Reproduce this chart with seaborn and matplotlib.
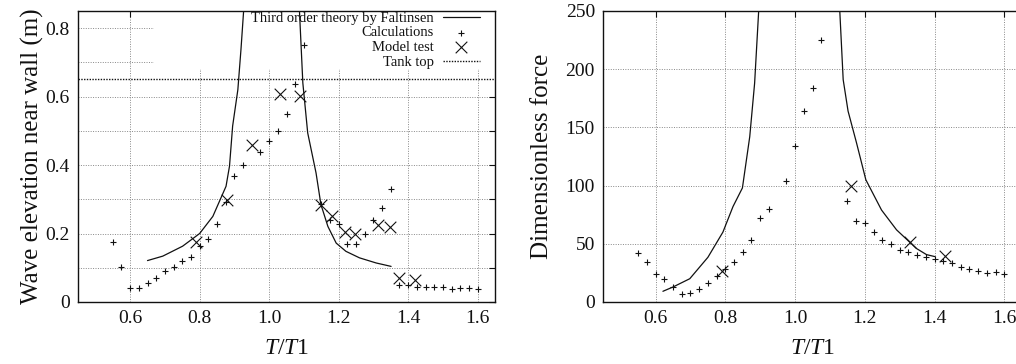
import numpy as np
import pandas as pd
import matplotlib
matplotlib.use("Agg")
import matplotlib.pyplot as plt
import seaborn as sns
from matplotlib.patches import Rectangle

# ---------------- data: wave elevation (left) ----------------
calc_x_left = [0.55, 0.575, 0.60, 0.625, 0.65, 0.675, 0.70, 0.725, 0.75, 0.775, 0.80, 0.825,
               0.85, 0.875, 0.90, 0.925, 0.975, 1.0, 1.025, 1.05, 1.075, 1.10,
               1.15, 1.175, 1.20, 1.225, 1.25, 1.275, 1.30, 1.325, 1.35,
               1.375, 1.40, 1.425, 1.45, 1.475, 1.50, 1.525, 1.55, 1.575, 1.60]
calc_y_left = [0.175, 0.101, 0.040, 0.040, 0.056, 0.071, 0.090, 0.101, 0.119, 0.131, 0.165, 0.184,
               0.229, 0.291, 0.369, 0.400, 0.439, 0.469, 0.499, 0.549, 0.638, 0.750,
               0.285, 0.240, 0.229, 0.170, 0.170, 0.199, 0.240, 0.275, 0.330,
               0.049, 0.049, 0.045, 0.044, 0.044, 0.043, 0.039, 0.042, 0.042, 0.038]
test_x_left = [0.79, 0.879, 0.95, 1.03, 1.09, 1.149, 1.181, 1.217, 1.248, 1.314, 1.348, 1.373, 1.42]
test_y_left = [0.174, 0.299, 0.460, 0.608, 0.603, 0.282, 0.250, 0.205, 0.200, 0.226, 0.218, 0.070, 0.065]
theory_x_left = [0.65, 0.694, 0.751, 0.80, 0.838, 0.876, 0.886, 0.895, 0.91, 0.919, 0.93, 1.0,
                 1.085, 1.097, 1.111, 1.135, 1.149, 1.169, 1.193, 1.221, 1.26, 1.308, 1.351]
theory_y_left = [0.121, 0.134, 0.163, 0.200, 0.250, 0.338, 0.397, 0.514, 0.620, 0.738, 0.90, 2.0,
                 0.90, 0.640, 0.494, 0.377, 0.285, 0.221, 0.172, 0.148, 0.129, 0.114, 0.104]
tank_top = 0.65

# ---------------- data: dimensionless force (right) ----------------
calc_x_right = [0.55, 0.575, 0.60, 0.625, 0.65, 0.675, 0.70, 0.725, 0.75, 0.775, 0.80, 0.825,
                0.85, 0.875, 0.90, 0.925, 0.975, 1.0, 1.025, 1.05, 1.075,
                1.15, 1.175, 1.20, 1.225, 1.25, 1.275, 1.30, 1.325, 1.35, 1.375, 1.40,
                1.425, 1.45, 1.475, 1.50, 1.525, 1.55, 1.575, 1.60]
calc_y_right = [42.4, 34.4, 24.0, 20.0, 12.9, 6.9, 7.4, 11.5, 16.3, 22.0, 28.0, 34.4,
                43.0, 53.0, 72.0, 80.0, 104.0, 134.0, 164.0, 184.0, 225.0,
                87.0, 70.0, 68.0, 60.0, 53.0, 50.0, 45.0, 43.0, 40.7, 39.0, 37.0,
                35.5, 33.5, 30.0, 28.0, 27.0, 25.0, 26.0, 24.0]
test_x_right = [0.791, 1.16, 1.329, 1.431]
test_y_right = [26.3, 99.4, 51.8, 39.8]
theory_x_right = [0.621, 0.65, 0.698, 0.75, 0.793, 0.822, 0.849, 0.87, 0.884, 0.905, 1.0,
                  1.12, 1.138, 1.152, 1.176, 1.203, 1.248, 1.291, 1.348, 1.377, 1.401]
theory_y_right = [9.2, 12.9, 20.0, 38.4, 60.0, 82.0, 98.0, 142.0, 188.0, 300.0, 800.0,
                  300.0, 191.0, 164.0, 137.0, 105.0, 79.0, 62.0, 46.0, 40.7, 39.0]

x_ticks = [0.6, 0.8, 1.0, 1.2, 1.4, 1.6]
x_tick_labels = ["0.6", "0.8", "1.0", "1.2", "1.4", "1.6"]
y_ticks_left = [0.0, 0.1, 0.2, 0.3, 0.4, 0.5, 0.6, 0.7, 0.8]
y_tick_labels_left = ["0", "", "0.2", "", "0.4", "", "0.6", "", "0.8"]
y_ticks_right = [0, 50, 100, 150, 200, 250]
y_tick_labels_right = ["0", "50", "100", "150", "200", "250"]

# ---------------- style ----------------
sns.set_theme(style="white")
plt.rcParams["font.family"] = ["Liberation Serif", "DejaVu Serif"]
plt.rcParams["mathtext.fontset"] = "custom"
plt.rcParams["mathtext.it"] = "Liberation Serif:italic"
plt.rcParams["mathtext.rm"] = "Liberation Serif"

W, H = 1016, 364
fig = plt.figure(figsize=(W / 100, H / 100), dpi=100)
axL = fig.add_axes([78 / W, 62 / H, 417 / W, 291 / H])
axR = fig.add_axes([603.3 / W, 62 / H, 418.4 / W, 291 / H])

ink = "#111111"
grid_kw = dict(color="#888888", linestyle=(0, (1, 1.5)), linewidth=0.7)


def style_axes(ax, yticks, ylabels, ylim, ylabel, ypad):
    ax.set_xlim(0.45, 1.65)
    ax.set_ylim(*ylim)
    ax.set_xticks(x_ticks)
    ax.set_xticklabels(x_tick_labels)
    ax.set_yticks(yticks)
    ax.set_yticklabels(ylabels)
    ax.set_axisbelow(True)
    ax.grid(True, **grid_kw)
    ax.tick_params(direction="in", length=4, width=0.8, colors=ink, labelsize=14,
                   top=True, right=True, pad=6)
    for s in ax.spines.values():
        s.set_color(ink)
        s.set_linewidth(1.0)
    ax.set_xlabel(r"$T$/$T$1", fontsize=17, color=ink, labelpad=8)
    ax.set_ylabel(ylabel, fontsize=18, color=ink, labelpad=ypad)


# ---------------- left panel ----------------
dfL_th = pd.DataFrame({"x": theory_x_left, "y": theory_y_left})
dfL_c = pd.DataFrame({"x": calc_x_left, "y": calc_y_left})
dfL_t = pd.DataFrame({"x": test_x_left, "y": test_y_left})

sns.lineplot(data=dfL_th, x="x", y="y", sort=False, ax=axL, color=ink, linewidth=0.9,
             label="Third order theory by Faltinsen", zorder=3)
sns.scatterplot(data=dfL_c, x="x", y="y", ax=axL, marker="+", s=22, color=ink,
                linewidth=0.8, label="Calculations", zorder=3)
sns.scatterplot(data=dfL_t, x="x", y="y", ax=axL, marker="x", s=70, color=ink,
                linewidth=0.8, label="Model test", zorder=3)
axL.axhline(tank_top, color=ink, linestyle=(0, (1, 1)), linewidth=1.0, label="Tank top", zorder=3)

# white key background hiding the grid, as in the original
axL.add_patch(Rectangle((0.183, 0.80), 0.817, 0.20, transform=axL.transAxes,
                        facecolor="white", edgecolor="none", zorder=1))

style_axes(axL, y_ticks_left, y_tick_labels_left, (0, 0.85), "Wave elevation near wall (m)", 1)
leg = axL.legend(loc="upper right", bbox_to_anchor=(0.988, 1.033), frameon=False,
                 markerfirst=False, fontsize=10.5, handlelength=2.55, handletextpad=0.6,
                 labelspacing=0.1, borderpad=0.2)
for t in leg.get_texts():
    t.set_color(ink)

# ---------------- right panel ----------------
dfR_th = pd.DataFrame({"x": theory_x_right, "y": theory_y_right})
dfR_c = pd.DataFrame({"x": calc_x_right, "y": calc_y_right})
dfR_t = pd.DataFrame({"x": test_x_right, "y": test_y_right})

sns.lineplot(data=dfR_th, x="x", y="y", sort=False, ax=axR, color=ink, linewidth=0.9, zorder=3)
sns.scatterplot(data=dfR_c, x="x", y="y", ax=axR, marker="+", s=22, color=ink,
                linewidth=0.8, zorder=3)
sns.scatterplot(data=dfR_t, x="x", y="y", ax=axR, marker="x", s=70, color=ink,
                linewidth=0.8, zorder=3)
style_axes(axR, y_ticks_right, y_tick_labels_right, (0, 250), "Dimensionless force", 9)
if axR.get_legend() is not None:
    axR.get_legend().remove()

fig.savefig("out.png", dpi=100)
